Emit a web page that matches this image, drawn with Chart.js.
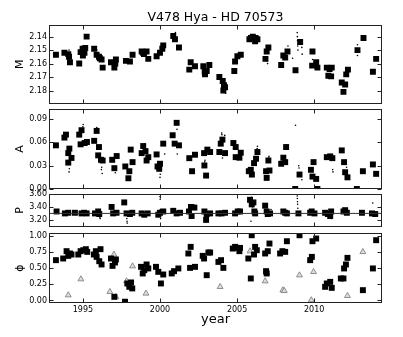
<!DOCTYPE html>
<html>
<head>
<meta charset="utf-8">
<script src="https://cdn.jsdelivr.net/npm/chart.js@4/dist/chart.umd.min.js"></script>
<style>
html, body { margin: 0; padding: 0; background: #fff; }
#wrap { position: relative; width: 403px; height: 337px; }
.panel { position: absolute; left: 0; width: 403px; }
</style>
</head>
<body>
<div id="wrap">
  <div class="panel" style="top:0;height:112px"><canvas id="chart-m"></canvas></div>
  <div class="panel" style="top:100px;height:97px"><canvas id="chart-a"></canvas></div>
  <div class="panel" style="top:185px;height:50px"><canvas id="chart-p"></canvas></div>
  <div class="panel" style="top:224px;height:113px"><canvas id="chart-phi"></canvas></div>
</div>
<script>
// ---- data ----
const TITLE = 'V478 Hya - HD 70573';
const YEAR_TICKS = [1995, 2000, 2005, 2010];

// mean magnitude M (seasonal means)
const M_YEAR = [1993.25, 1993.80, 1994.05, 1994.10, 1994.16, 1994.76, 1994.85, 1994.98, 1995.00, 1995.10, 1995.15, 1995.24,
  1995.73, 1995.89, 1996.04, 1996.10, 1996.21, 1996.28, 1996.82, 1997.04, 1997.10, 1997.14, 1997.79, 1998.05, 1998.22,
  1998.81, 1998.90, 1998.96, 1999.13, 1999.24, 1999.78, 2000.00, 2000.15, 2000.21, 2000.86, 2000.97, 2001.23,
  2001.90, 2001.99, 2002.27, 2002.81, 2002.90, 2002.92, 2003.03, 2003.20, 2003.85, 2004.07, 2004.11, 2004.15, 2004.22,
  2004.82, 2004.87, 2005.02, 2005.24, 2005.80, 2005.90, 2006.02, 2006.17, 2006.20, 2006.32, 2006.84, 2006.92, 2007.03,
  2007.86, 2008.00, 2008.12, 2008.27, 2008.79, 2009.09, 2009.87, 2009.89, 2010.13, 2010.21, 2010.82, 2010.92,
  2011.00, 2011.10, 2011.14, 2011.79, 2011.90, 2012.01, 2012.08, 2012.19, 2012.81, 2013.20, 2013.81, 2014.02];
const M_MAG = [2.1535, 2.152, 2.153, 2.155, 2.159, 2.160, 2.1515, 2.149, 2.154, 2.152, 2.1485, 2.140,
  2.149, 2.1535, 2.155, 2.156, 2.157, 2.163, 2.159, 2.163, 2.160, 2.157, 2.158, 2.1585, 2.1535,
  2.151, 2.152, 2.153, 2.151, 2.1565, 2.1545, 2.152, 2.149, 2.1465, 2.1395, 2.142, 2.148,
  2.1645, 2.159, 2.162, 2.162, 2.166, 2.168, 2.1655, 2.161, 2.170, 2.173, 2.180, 2.176, 2.1775,
  2.1655, 2.1585, 2.1545, 2.1535, 2.142, 2.141, 2.140, 2.1435, 2.141, 2.142, 2.1565, 2.151, 2.148,
  2.161, 2.154, 2.1555, 2.151, 2.165, 2.144, 2.1615, 2.151, 2.159, 2.163, 2.163, 2.169,
  2.164, 2.1695, 2.163, 2.174, 2.181, 2.1755, 2.168, 2.1645, 2.150, 2.141, 2.166, 2.1565];
// individual nights (small dots)
const M_DOT_YEAR = [1994.10, 1995.90, 2001.00, 2004.25, 2006.95, 2006.98, 2008.30, 2008.33, 2008.60, 2008.90, 2008.91,
  2008.92, 2008.93, 2008.95, 2009.20, 2009.22, 2009.90, 2012.81, 2012.81];
const M_DOT_MAG = [2.150, 2.150, 2.137, 2.182, 2.158, 2.160, 2.147, 2.150, 2.156, 2.137, 2.140,
  2.143, 2.147, 2.150, 2.148, 2.153, 2.157, 2.146, 2.154];

// amplitude A
const A_YEAR = [1993.25, 1993.80, 1993.90, 1994.05, 1994.12, 1994.05, 1994.26, 1994.76, 1994.91, 1994.85, 1995.11, 1995.26,
  1995.73, 1995.89, 1996.04, 1995.99, 1996.17, 1996.28, 1996.90, 1997.04, 1997.19, 1997.75, 1997.95, 1998.01, 1998.10,
  1998.22, 1998.81, 1998.91, 1999.06, 1999.13, 1999.24, 1999.78, 1999.84, 2000.00, 1999.95, 2000.21, 2000.82, 2001.08,
  2000.95, 2001.23, 2001.90, 2002.08, 2002.27, 2002.86, 2002.88, 2002.99, 2003.07, 2003.25, 2003.85, 2003.94, 2004.05,
  2004.22, 2004.76, 2004.91, 2004.91, 2005.15, 2005.24, 2005.76, 2005.89, 2005.96, 2006.10, 2006.23, 2006.32, 2006.88,
  2006.92, 2007.03, 2007.10, 2007.86, 2008.00, 2008.12, 2008.18, 2008.77, 2009.05, 2009.79, 2009.89, 2009.96, 2010.13,
  2010.21, 2010.82, 2011.04, 2011.18, 2011.79, 2011.94, 2012.01, 2012.16, 2012.77, 2013.16, 2013.81, 2014.02];
const A_AMP = [0.0562, 0.0662, 0.070, 0.0462, 0.052, 0.034, 0.040, 0.070, 0.0757, 0.0575, 0.0592, 0.0605,
  0.062, 0.0748, 0.054, 0.0433, 0.0376, 0.0367, 0.0376, 0.0268, 0.0424, 0.029, 0.0138, 0.0229, 0.0507,
  0.0346, 0.0462, 0.0553, 0.0488, 0.0367, 0.041, 0.0445, 0.029, 0.0325, 0.026, 0.0584, 0.0692, 0.0852,
  0.0584, 0.0562, 0.0397, 0.0229, 0.0441, 0.0462, 0.0303, 0.0173, 0.0507, 0.0476, 0.0476, 0.0584, 0.0636,
  0.0462, 0.0592, 0.054, 0.041, 0.0403, 0.0467, 0.0229, 0.0247, 0.0186, 0.0333, 0.039, 0.0476, 0.0229,
  0.0143, 0.0367, 0.0238, 0.0325, 0.0403, 0.0346, 0.054, 0.000, 0.0186, 0.0247, 0.016, 0.0346, 0.013,
  0.000, 0.041, 0.042, 0.0397, 0.0497, 0.0346, 0.0216, 0.015, 0.000, 0.0229, 0.0316, 0.0195];
const A_DOT_YEAR = [1994.10, 1994.12, 1995.00, 1995.02, 1995.90, 1996.20, 1996.22, 1996.25, 1997.10, 1999.00, 2000.00,
  2000.02, 2000.30, 2001.10, 2001.12, 2002.90, 2002.92, 2003.00, 2004.00, 2004.02, 2004.05, 2004.20, 2005.20, 2006.00,
  2006.30, 2006.32, 2007.05, 2007.07, 2008.20, 2008.79, 2009.00, 2009.02, 2009.20, 2011.20, 2011.22, 2012.10];
const A_DOT_AMP = [0.022, 0.026, 0.080, 0.083, 0.079, 0.025, 0.028, 0.020, 0.021, 0.058, 0.015,
  0.019, 0.045, 0.077, 0.045, 0.035, 0.037, 0.028, 0.072, 0.070, 0.040, 0.069, 0.040, 0.017,
  0.052, 0.055, 0.040, 0.042, 0.057, 0.082, 0.030, 0.027, 0.012, 0.025, 0.022, 0.028];

// period P
const P_MEAN = 3.30;
const P_YEAR = [1993.29, 1993.83, 1994.05, 1994.48, 1994.91, 1995.08, 1995.24, 1995.78, 1995.99, 1996.06, 1996.86, 1996.96,
  1997.18, 1997.68, 1997.83, 1998.05, 1998.20, 1998.81, 1998.98, 1999.20, 1999.89, 2000.00, 2000.21, 2000.86, 2001.08,
  2001.30, 2001.88, 2002.01, 2002.05, 2002.23, 2002.88, 2003.03, 2002.99, 2003.25, 2003.79, 2004.00, 2004.22, 2004.87,
  2005.04, 2005.19, 2005.84, 2005.95, 2006.06, 2006.12, 2006.17, 2006.82, 2006.92, 2006.99, 2007.14, 2008.00, 2008.12,
  2008.23, 2008.98, 2009.74, 2009.84, 2010.02, 2010.71, 2010.89, 2011.04, 2011.10, 2011.90, 2012.01, 2012.12, 2013.10,
  2013.75, 2013.96];
const P_DAYS = [3.33, 3.30, 3.31, 3.31, 3.30, 3.31, 3.30, 3.30, 3.33, 3.29, 3.40, 3.30,
  3.31, 3.47, 3.30, 3.29, 3.31, 3.30, 3.28, 3.30, 3.28, 3.31, 3.33, 3.34, 3.30,
  3.31, 3.33, 3.40, 3.26, 3.39, 3.33, 3.29, 3.20, 3.30, 3.30, 3.30, 3.31, 3.30,
  3.33, 3.33, 3.51, 3.44, 3.47, 3.33, 3.30, 3.42, 3.33, 3.29, 3.30, 3.33, 3.31,
  3.30, 3.30, 3.31, 3.33, 3.30, 3.31, 3.29, 3.26, 3.33, 3.33, 3.35, 3.31, 3.31,
  3.30, 3.29];
const P_DOT_YEAR = [1996.10, 1996.12, 1997.85, 1997.86, 1997.87, 2000.00, 2000.01, 2000.02, 2000.03, 2000.04, 2002.20,
  2005.90, 2005.92, 2006.00, 2007.20, 2008.90, 2008.91, 2008.92, 2008.93, 2008.94, 2011.10, 2013.80];
const P_DOT_DAYS = [3.24, 3.22, 3.22, 3.18, 3.15, 3.56, 3.52, 3.36, 3.26, 3.22, 3.43,
  3.18, 3.55, 3.40, 3.36, 3.57, 3.53, 3.48, 3.44, 3.38, 3.22, 3.46];

// phase phi: photometric (squares) and other minima (triangles)
const PHI_YEAR = [1993.25, 1993.72, 1993.94, 1994.05, 1994.16, 1994.26, 1994.70, 1994.85, 1995.02, 1995.19, 1995.28,
  1995.71, 1995.84, 1995.89, 1996.06, 1996.14, 1996.21, 1996.82, 1996.92, 1997.08, 1997.14, 1997.04, 1997.73,
  1997.88, 1998.01, 1998.12, 1998.20, 1998.77, 1998.88, 1998.98, 1999.13, 1999.24, 1999.74, 1999.89, 2000.06,
  2000.21, 2000.76, 2000.91, 2001.19, 2001.84, 2001.99, 2001.95, 2002.27, 2002.77, 2002.86, 2003.03, 2003.14,
  2003.25, 2003.79, 2003.96, 2004.11, 2004.72, 2004.87, 2005.02, 2005.15, 2005.19, 2005.73, 2005.89, 2005.95,
  2006.10, 2006.17, 2006.28, 2006.82, 2006.88, 2006.92, 2006.99, 2007.10, 2007.79, 2007.94, 2008.12, 2008.23,
  2009.05, 2009.74, 2009.85, 2009.89, 2010.13, 2010.71, 2010.82, 2011.04, 2011.14, 2011.73, 2011.90, 2011.94,
  2012.06, 2012.16, 2013.16, 2013.81, 2014.02];
const PHI_PHASE = [0.627, 0.653, 0.767, 0.694, 0.731, 0.715, 0.715, 0.767, 0.782, 0.798, 0.756,
  0.715, 0.767, 0.678, 0.611, 0.798, 0.560, 0.653, 0.538, 0.591, 0.638, 0.056, -0.02,
  0.264, 0.212, 0.280, 0.187, 0.523, 0.420, 0.471, 0.560, 0.498, 0.523, 0.445, 0.264,
  0.404, 0.420, 0.456, 0.498, 0.731, 0.834, 0.507, 0.523, 0.694, 0.653, 0.393, 0.746,
  0.746, 0.600, 0.627, 0.507, 0.808, 0.834, 0.818, 0.767, 0.818, 0.653, 0.342, 1.015,
  0.715, 0.834, 0.782, 0.731, 0.456, 0.420, 0.767, 0.886, 0.731, 0.767, 0.756, 0.922,
  1.015, 0.627, 0.678, 0.922, 0.964, 0.212, 0.264, 0.289, 0.196, 0.342, 0.342, 0.498,
  0.560, 0.663, 0.160, 0.498, 0.938];
const PHI2_YEAR = [1994.05, 1994.87, 1996.75, 1997.01, 1997.14, 1997.83, 1998.22, 1999.09, 2003.90, 2005.84, 2006.82,
  2006.92, 2007.97, 2008.06, 2009.05, 2009.81, 2009.96, 2012.16, 2013.16];
const PHI2_PHASE = [0.082, 0.331, 0.134, 0.715, 0.056, 0.300, 0.533, 0.109, 0.212, 0.767, 0.300,
  0.430, 0.160, 0.150, 0.393, 0.005, 0.445, 0.072, 0.756];

// ---- chart setup ----
Chart.defaults.font.family = "'DejaVu Sans', sans-serif";
Chart.defaults.color = '#000';
Chart.defaults.animation = false;

const X_MIN = 1992.8, X_MAX = 2014.4;

function pts(xs, ys) {
  return xs.map((x, i) => ({x: x, y: ys[i]}));
}

// box around the plot and inward tick marks on all four sides (matplotlib look)
const boxPlugin = {
  id: 'box',
  afterDatasetsDraw(chart) {
    const ctx = chart.ctx;
    const a = chart.chartArea;
    const L = Math.round(a.left) + 0.5, R = Math.round(a.right) - 0.5;
    const T = Math.round(a.top) + 0.5, B = Math.round(a.bottom) - 0.5;
    ctx.save();
    ctx.strokeStyle = '#222';
    ctx.lineWidth = 1;
    ctx.beginPath();
    YEAR_TICKS.forEach(v => {
      const px = Math.round(chart.scales.x.getPixelForValue(v)) + 0.5;
      ctx.moveTo(px, B); ctx.lineTo(px, B - 4);
      ctx.moveTo(px, T); ctx.lineTo(px, T + 4);
    });
    chart.scales.y.ticks.forEach(t => {
      const py = Math.round(chart.scales.y.getPixelForValue(t.value)) + 0.5;
      ctx.moveTo(L, py); ctx.lineTo(L + 4, py);
      ctx.moveTo(R, py); ctx.lineTo(R - 4, py);
    });
    ctx.stroke();
    ctx.strokeRect(L, T, R - L, B - T);
    ctx.restore();
  }
};

function squares(data) {
  return {data: data, pointStyle: 'rect', pointRadius: 4.2, backgroundColor: '#000',
    borderColor: '#000', borderWidth: 0, clip: 0};
}
function dots(data) {
  return {data: data, pointStyle: 'circle', pointRadius: 0.8, backgroundColor: '#000',
    borderColor: '#000', borderWidth: 0, clip: 0};
}

function yAxis(label, min, max, tickVals, reverse) {
  return {
    type: 'linear', min: min, max: max, reverse: !!reverse,
    afterBuildTicks: s => { s.ticks = tickVals.map(v => ({value: v})); },
    afterFit: s => { s.width = 49; },
    grid: {display: false, drawTicks: false},
    border: {display: false},
    ticks: {font: {size: 8}, padding: 2, autoSkip: false, callback: v => v.toFixed(2)},
    title: {display: true, text: label, font: {size: 11}, padding: {top: 14, bottom: 0}}
  };
}

function xAxis(show) {
  if (!show) {
    return {type: 'linear', min: X_MIN, max: X_MAX, display: false};
  }
  return {
    type: 'linear', min: X_MIN, max: X_MAX,
    afterBuildTicks: s => { s.ticks = YEAR_TICKS.map(v => ({value: v})); },
    afterFit: s => { s.height = 34; },
    grid: {display: false, drawTicks: false},
    border: {display: false},
    ticks: {font: {size: 8}, padding: 2, autoSkip: false, maxRotation: 0, callback: v => String(v)},
    title: {display: true, text: 'year', font: {size: 13}, padding: {top: 0, bottom: 10}}
  };
}

function panel(id, datasets, y, x, padding, title) {
  new Chart(document.getElementById(id), {
    type: 'scatter',
    data: {datasets: datasets},
    options: {
      responsive: true,
      maintainAspectRatio: false,
      layout: {padding: padding},
      scales: {x: x, y: y},
      plugins: {
        legend: {display: false},
        tooltip: {enabled: false},
        title: title || {display: false}
      }
    },
    plugins: [boxPlugin]
  });
}

panel('chart-m',
  [dots(pts(M_DOT_YEAR, M_DOT_MAG)), squares(pts(M_YEAR, M_MAG))],
  yAxis('M', 2.131, 2.19, [2.14, 2.15, 2.16, 2.17, 2.18], true),
  xAxis(false),
  {top: 0, bottom: 8, left: 0, right: 21},
  {display: true, text: TITLE, fullSize: false, font: {size: 12.5, weight: 'normal', lineHeight: 1},
    padding: {top: 11, bottom: 1}});

panel('chart-a',
  [dots(pts(A_DOT_YEAR, A_DOT_AMP)), squares(pts(A_YEAR, A_AMP))],
  yAxis('A', 0, 0.103, [0, 0.03, 0.06, 0.09]),
  xAxis(false),
  {top: 9, bottom: 8, left: 0, right: 21});

panel('chart-p',
  [{data: [{x: X_MIN, y: P_MEAN}, {x: X_MAX, y: P_MEAN}], showLine: true, pointRadius: 0,
    borderColor: '#333', borderWidth: 1},
   dots(pts(P_DOT_YEAR, P_DOT_DAYS)), squares(pts(P_YEAR, P_DAYS))],
  yAxis('P', 3.09, 3.60, [3.2, 3.4, 3.6]),
  xAxis(false),
  {top: 9, bottom: 8, left: 0, right: 21});

panel('chart-phi',
  [squares(pts(PHI_YEAR, PHI_PHASE)),
   {data: pts(PHI2_YEAR, PHI2_PHASE), pointStyle: 'triangle', pointRadius: 3.4,
    backgroundColor: '#ddd', borderColor: '#777', borderWidth: 0.8, clip: 0}],
  yAxis('\u03d5', -0.04, 1.05, [0, 0.25, 0.5, 0.75, 1.0]),
  xAxis(true),
  {top: 9, bottom: 0, left: 0, right: 21});
</script>
</body>
</html>
